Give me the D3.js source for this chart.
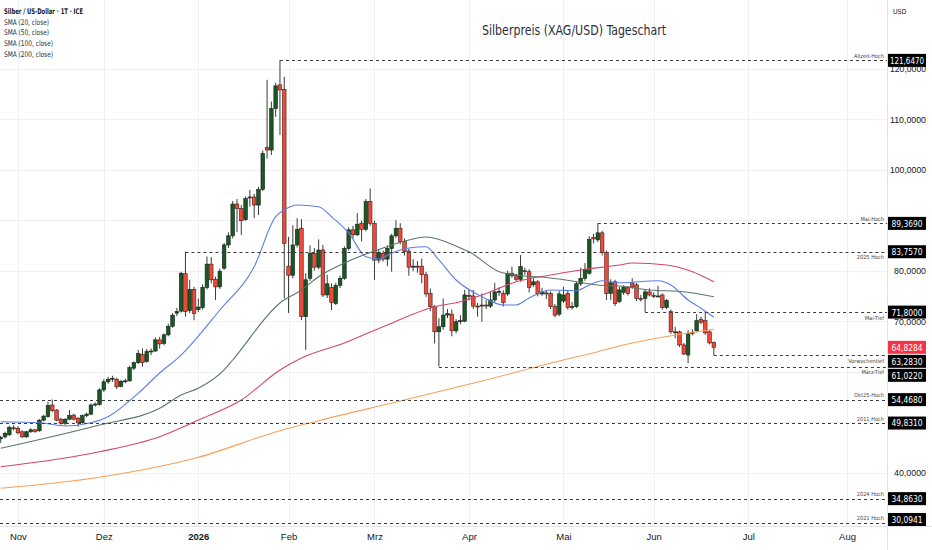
<!DOCTYPE html>
<html><head><meta charset="utf-8">
<script src="https://cdn.jsdelivr.net/npm/d3@7"></script>
<style>
html,body{margin:0;padding:0;background:#fff;}
svg{display:block;font-family:"Liberation Sans Narrow","DejaVu Sans Condensed","DejaVu Sans",sans-serif;font-stretch:condensed;}
</style></head><body>
<svg id="chart" width="932" height="550"></svg>
<script>
// ---- data (bar index 0 = 28 Oct 2025, trading days) ----
const openV = [46.7,47.1,47.5,48.9,48.8,48.1,47.1,48.1,48.5,48.3,50.4,51.1,53.4,52.4,50.6,49.8,50.6,51.4,50.8,49.9,51.3,51.6,53.4,53.5,56.4,58.0,58.6,58.5,57.1,58.1,
58.2,60.7,61.8,63.4,62.0,64.0,64.1,66.3,65.6,67.3,69.0,71.6,72.0,79.4,72.1,76.3,72.3,72.7,76.7,81.3,78.3,76.8,80.5,85.1,86.9,93.2,92.3,90.1,94.4,94.6,
93.0,96.1,104.4,103.9,112.1,116.8,115.9,80.9,79.1,85.1,88.4,70.9,78.5,83.4,80.7,84.1,75.2,76.7,73.5,77.1,78.5,84.4,88.1,87.1,89.4,88.2,93.7,89.4,82.1,83.4,
82.3,84.4,86.9,88.4,85.8,83.9,80.7,80.9,80.9,79.2,75.5,72.9,67.9,68.9,71.2,71.4,68.1,69.9,70.0,75.1,75.0,73.0,73.0,73.2,73.0,74.2,75.8,75.5,75.4,79.5,
79.0,78.3,80.0,79.8,77.2,77.8,75.4,75.6,75.5,72.9,71.4,74.0,75.5,72.8,72.9,77.4,78.5,79.5,86.6,86.1,87.5,83.6,75.5,77.8,73.9,75.7,76.7,77.6,77.2,74.5,
74.5,75.8,75.1,74.9,75.2,72.7,71.9,67.8,67.9,65.3,63.3,67.6,68.1,70.4,70.1,67.9,65.8];
const highV = [47.3,48.1,49.3,49.4,49.2,48.4,48.3,48.8,48.6,50.6,51.5,54.1,54.5,52.6,50.9,50.8,52.4,51.7,51.0,51.5,51.9,53.7,53.9,56.7,58.5,59.0,59.2,58.8,58.4,58.6,
61.2,62.0,64.3,64.6,64.5,64.6,66.8,66.9,67.6,69.5,71.6,72.6,79.8,83.757,78.2,76.8,74.5,77.3,82.8,82.7,78.8,80.4,85.5,87.6,93.8,94.2,93.0,94.7,96.0,95.2,
96.6,103.8,117.8,113.5,117.2,121.647,118.4,86.7,89.0,90.4,90.2,79.5,85.0,84.5,86.2,85.1,79.2,77.5,77.6,79.0,84.8,88.6,88.9,91.4,89.9,94.2,96.3,89.9,84.2,84.0,
85.0,87.3,90.0,89.4,86.4,84.4,82.3,81.9,82.4,79.8,76.5,73.2,70.6,74.5,72.4,72.3,70.4,71.2,76.2,76.2,76.2,73.6,75.5,74.2,75.8,77.6,76.7,76.1,80.0,80.8,
79.4,83.1,80.6,80.3,78.5,78.2,76.6,76.2,75.9,73.4,76.0,76.8,76.0,73.8,77.8,80.6,81.5,86.8,87.3,89.369,87.9,84.0,78.3,78.2,76.8,77.1,77.0,78.5,77.6,75.2,
76.2,76.5,75.7,77.0,75.5,74.4,72.3,68.9,68.1,65.7,68.2,68.4,71.4,70.9,71.9,68.2,66.0];
const lowV = [45.9,46.8,47.3,48.4,47.6,46.9,46.9,47.9,47.9,48.1,50.2,50.9,52.0,50.2,49.5,49.4,50.4,50.3,49.1,49.7,51.0,51.4,53.1,53.3,56.0,57.6,58.0,56.6,56.9,57.7,
58.0,60.3,61.5,61.0,61.8,63.3,63.9,64.6,65.2,67.0,68.7,71.0,71.7,70.9,71.6,70.2,71.8,72.3,76.3,77.5,74.2,76.4,80.2,84.5,86.4,87.7,87.1,89.9,92.7,90.4,
91.0,95.8,102.2,102.9,110.5,106.9,74.5,71.6,78.5,84.6,70.2,64.3,78.0,80.0,80.3,74.8,74.6,72.2,73.2,76.6,78.2,84.0,86.4,86.9,85.8,87.8,88.9,78.2,81.5,81.8,
80.9,79.8,86.5,85.2,83.0,79.0,79.9,79.6,77.5,74.8,72.0,65.6,61.022,68.3,70.6,67.0,67.6,69.4,69.8,74.1,72.4,70.9,69.9,72.4,72.6,73.8,75.0,72.9,75.0,78.6,
77.9,77.8,79.2,75.7,76.8,74.9,75.0,74.4,72.4,70.8,71.0,73.6,72.3,72.3,72.6,77.0,78.0,79.2,85.4,85.7,83.0,74.2,74.2,73.0,73.6,75.2,75.1,76.4,74.0,73.9,
71.8,74.9,74.6,74.7,72.3,72.4,67.5,66.6,64.9,63.3,61.7,67.2,67.8,69.4,67.3,65.4,63.283];
const closeV = [47.0,47.8,49.0,48.7,47.9,47.1,48.1,48.5,48.2,50.4,51.2,53.3,52.3,50.4,49.8,50.6,51.3,50.6,49.9,51.3,51.6,53.4,53.6,56.4,58.0,58.5,58.7,57.0,58.1,58.2,
60.8,61.8,63.6,61.8,64.0,64.1,66.3,65.5,67.3,69.0,71.2,71.9,79.5,71.9,76.3,71.5,72.8,76.7,81.3,78.2,76.8,79.9,85.1,86.9,93.2,92.3,89.9,94.3,94.6,93.0,
96.1,103.2,103.9,112.1,116.6,115.8,85.4,79.1,85.1,88.2,70.9,78.2,83.4,80.7,84.1,75.2,77.4,73.7,77.1,78.5,84.4,88.1,87.1,89.2,88.2,93.7,89.4,82.1,83.6,82.3,
84.4,86.9,88.4,85.8,83.8,80.7,80.9,80.8,79.2,75.4,72.9,67.9,68.9,71.2,71.5,68.1,69.9,70.1,75.2,75.0,73.0,72.9,73.2,73.0,74.2,75.8,75.9,73.7,79.5,79.0,
78.3,80.8,79.8,76.7,77.8,75.4,75.8,75.5,72.9,71.2,75.4,75.2,72.7,72.9,77.4,78.5,80.3,86.2,86.3,87.5,83.6,75.5,77.6,73.5,76.2,76.7,75.5,76.8,74.5,74.4,
75.8,75.2,75.0,75.0,72.7,74.1,67.9,67.9,65.3,63.5,67.5,67.8,70.1,69.8,67.7,65.7,64.8284];

const monthLabels = ["Nov","Dez","2026","Feb","Mrz","Apr","Mai","Jun","Jul","Aug"];
const monthIndex  = [4,24,46,67,87,109,131,152,174,197];
const priceTicks  = [30,40,50,60,70,80,90,100,110,120];

// moving averages: [bar index, value]
const sma20 = [[0,50.10],[9,49.90],[15,49.25],[21,49.90],[25,51.09],[32,55.72],[37,59.74],[42,63.3],[51,72.22],[59,80.79],[64,90.69],[66,92.02],[69,93.01],[74,92.67],[77,90.69],[81,87.47],[85,82.77],[88,82.32],[91,83.50],[95,84.50],[99,84.75],[102,82.12],[106,78.16],[112,74.85],[117,73.21],[120,73.21],[123,74.59],[128,76.18],[134,76.04],[137,77.17],[140,78.02],[144,77.62],[153,78.02],[156,77.17],[160,74.20],[163,72.55],[166,70.77]];
const sma50 = [[0,44.83],[23,49.45],[37,52.75],[42,55.39],[46,56.71],[52,60.34],[54,62.32],[65,73.60],[70,76.18],[74,78.81],[80,81.52],[89,84.50],[95,86.08],[99,86.67],[107,84.50],[109,83.76],[116,79.80],[120,79.15],[128,78.55],[134,77.82],[139,77.17],[144,76.97],[151,76.18],[159,75.84],[166,74.85]];
const sma100 = [[0,41.19],[23,44.16],[37,47.13],[46,50.44],[56,54.40],[65,60.34],[70,62.71],[80,65.68],[89,68.91],[101,72.87],[107,73.86],[112,75.19],[120,77.82],[128,79.15],[135,80.14],[144,81.13],[147,81.52],[155,81.13],[161,79.80],[166,77.82]];
const sma200 = [[0,36.91],[23,39.09],[46,43.05],[65,48.32],[74,50.30],[93,54.20],[112,58.16],[131,62.32],[139,63.96],[144,65.09],[166,68.40]];

const levelNames  = ["Allzeit-Hoch","Mai-Hoch","2025 Hoch","Mai-Tief","Vorwochentief","März-Tief","Okt25-Hoch","2011 Hoch","2024 Hoch","2021 Hoch"];
const levelValues = [121.647,89.369,83.757,71.8,63.283,61.022,54.468,49.831,34.863,30.0941];
const levelStart  = [65,139,43,150,166,102,null,null,null,null];
const lastPrice = 64.8284;

const legendLines = ["Silber / US-Dollar · 1T · ICE","SMA (20, close)","SMA (50, close)","SMA (100, close)","SMA (200, close)"];
const titleText = "Silberpreis (XAG/USD) Tageschart";

// ---- drawing ----
const svg = d3.select("#chart");
const plotR = 887, plotB = 526;
const x = d3.scaleLinear().domain([0,206]).range([0.72, 0.72 + 206*4.296]);
const y = d3.scaleLinear().domain([30,100]).range([523.2,169.7]);
const fmt = v => d3.format(".4f")(v).replace(".", ",");

svg.append("defs").append("clipPath").attr("id","plot")
  .append("rect").attr("x",0).attr("y",0).attr("width",plotR).attr("height",plotB);

// grid
const grid = svg.append("g").attr("clip-path","url(#plot)");
grid.selectAll(".hg").data(priceTicks).join("line")
  .attr("x1",0).attr("x2",plotR).attr("y1",d=>Math.round(y(d))+0.5).attr("y2",d=>Math.round(y(d))+0.5)
  .attr("stroke","#eef0f4").attr("stroke-width",1);
grid.selectAll(".vg").data(monthIndex).join("line")
  .attr("y1",0).attr("y2",plotB).attr("x1",d=>Math.round(x(d))+0.5).attr("x2",d=>Math.round(x(d))+0.5)
  .attr("stroke","#eef0f4").attr("stroke-width",1);

// candles
const bars = d3.range(openV.length).map(i => ({i, o:openV[i], h:highV[i], l:lowV[i], c:closeV[i]}));
const cg = svg.append("g").attr("clip-path","url(#plot)");
cg.selectAll(".wick").data(bars).join("line")
  .attr("x1",d=>x(d.i)).attr("x2",d=>x(d.i))
  .attr("y1",d=>y(d.h)).attr("y2",d=>y(d.l))
  .attr("stroke","#3a3a3a").attr("stroke-width",1);
cg.selectAll(".body").data(bars).join("rect")
  .attr("x",d=>x(d.i)-1.8).attr("width",3.6)
  .attr("y",d=>y(Math.max(d.o,d.c)))
  .attr("height",d=>Math.max(1, Math.abs(y(d.o)-y(d.c))))
  .attr("fill",d=> d.c>=d.o ? "#1c5526" : "#ee4a3c")
  .attr("stroke",d=> Math.abs(y(d.o)-y(d.c))<1.2 ? "#222" : (d.c>=d.o ? "#0e2612" : "#4a1712"))
  .attr("stroke-width",0.6);

// SMAs
const line = d3.line().x(d=>x(d[0])).y(d=>y(d[1])).curve(d3.curveMonotoneX);
const smaG = svg.append("g").attr("clip-path","url(#plot)").attr("fill","none");
[[sma200,"#f7a15a"],[sma100,"#d3486a"],[sma50,"#5c7566"],[sma20,"#5b7fe6"]].forEach(([d,c])=>{
  smaG.append("path").datum(d).attr("d",line).attr("stroke",c).attr("stroke-width",1.1);
});

// level lines
const below = new Set(["2025 Hoch","Mai-Tief","Vorwochentief","März-Tief"]);
const lv = levelValues.map((v,k)=>({v, name:levelNames[k], s:levelStart[k]}));
const lg = svg.append("g");
lg.selectAll(".lvl").data(lv).join("line")
  .attr("x1",d=> d.s==null ? 0 : x(d.s)).attr("x2",plotR)
  .attr("y1",d=>Math.round(y(d.v))+0.5).attr("y2",d=>Math.round(y(d.v))+0.5)
  .attr("stroke","#3c3c3c").attr("stroke-width",1).attr("stroke-dasharray","3,3");
lg.selectAll(".lvlt").data(lv).join("text")
  .attr("x",884).attr("y",d=> below.has(d.name) ? y(d.v)+7.5 : y(d.v)-2.5)
  .attr("text-anchor","end").attr("font-size",5.6).attr("fill","#444")
  .text(d=>d.name);

// separators
svg.append("line").attr("x1",plotR+0.5).attr("x2",plotR+0.5).attr("y1",0).attr("y2",550).attr("stroke","#e0e3eb");
svg.append("line").attr("x1",0).attr("x2",932).attr("y1",plotB+0.5).attr("y2",plotB+0.5).attr("stroke","#e0e3eb");

// value boxes with collision avoidance
const boxes = levelValues.map(v=>({v, c:y(v), fill:"#000"})).concat([{v:lastPrice, c:y(lastPrice), fill:"#f23645"}]);
boxes.sort((a,b)=>a.c-b.c);
const bh = 13;
for (let k=1;k<boxes.length;k++){ if (boxes[k].c - boxes[k-1].c < bh+1) boxes[k].c = boxes[k-1].c + bh + 1; }
const maxC = plotB - bh/2;
if (boxes[boxes.length-1].c > maxC){ boxes[boxes.length-1].c = maxC; }
for (let k=boxes.length-2;k>=0;k--){ if (boxes[k+1].c - boxes[k].c < bh+1) boxes[k].c = boxes[k+1].c - bh - 1; }

// right axis (tick labels hidden where a value box sits on top of them)
const visibleTicks = priceTicks.filter(t => !boxes.some(b => Math.abs(b.c - y(t)) < 6.5));
const ra = svg.append("g").attr("transform",`translate(${plotR},0)`)
  .call(d3.axisRight(y).tickValues(visibleTicks).tickSize(0).tickFormat(fmt));
ra.select(".domain").remove();
ra.selectAll("text").attr("x",39).attr("text-anchor","end")
  .attr("font-size",9.5).attr("fill","#131722").attr("font-family","inherit")
  .attr("textLength",d=> d>=100 ? 36 : 32).attr("lengthAdjust","spacingAndGlyphs");

// bottom axis
const ba = svg.append("g").attr("transform",`translate(0,${plotB})`)
  .call(d3.axisBottom(x).tickValues(monthIndex).tickSize(0).tickPadding(7).tickFormat((d,i)=>monthLabels[i]));
ba.select(".domain").remove();
ba.selectAll("text").attr("font-size",9.5).attr("fill","#131722").attr("font-family","inherit")
  .attr("font-weight",(d,i)=> monthLabels[i]==="2026" ? "bold" : "normal");

const bg = svg.append("g");
bg.selectAll("rect").data(boxes).join("rect")
  .attr("x",888).attr("width",38).attr("y",d=>d.c-bh/2).attr("height",bh).attr("fill",d=>d.fill);
bg.selectAll("text").data(boxes).join("text")
  .attr("x",907).attr("y",d=>d.c).attr("dy","0.36em").attr("text-anchor","middle")
  .attr("font-size",9.5).attr("fill","#fff")
  .attr("textLength",d=> d.v>=100 ? 34 : 31).attr("lengthAdjust","spacingAndGlyphs")
  .text(d=>fmt(d.v));

// top texts
svg.append("text").attr("x",893).attr("y",14).attr("font-size",7).attr("fill","#131722").text("USD");
svg.append("text").attr("x",574).attr("y",35).attr("text-anchor","middle").attr("font-size",14.5)
  .attr("fill","#2a2e39").attr("textLength",184).attr("lengthAdjust","spacingAndGlyphs").text(titleText);
const legW = [79,45,45,49,49];
svg.selectAll(".leg").data(legendLines).join("text")
  .attr("x",4).attr("y",(d,i)=>14 + i*10.7).attr("font-size",7.8)
  .attr("fill",(d,i)=> i===0 ? "#131722" : "#2a2e39")
  .attr("textLength",(d,i)=>legW[i]).attr("lengthAdjust","spacingAndGlyphs")
  .attr("font-weight",(d,i)=> i===0 ? "bold" : "normal").text(d=>d);
</script>
</body></html>
